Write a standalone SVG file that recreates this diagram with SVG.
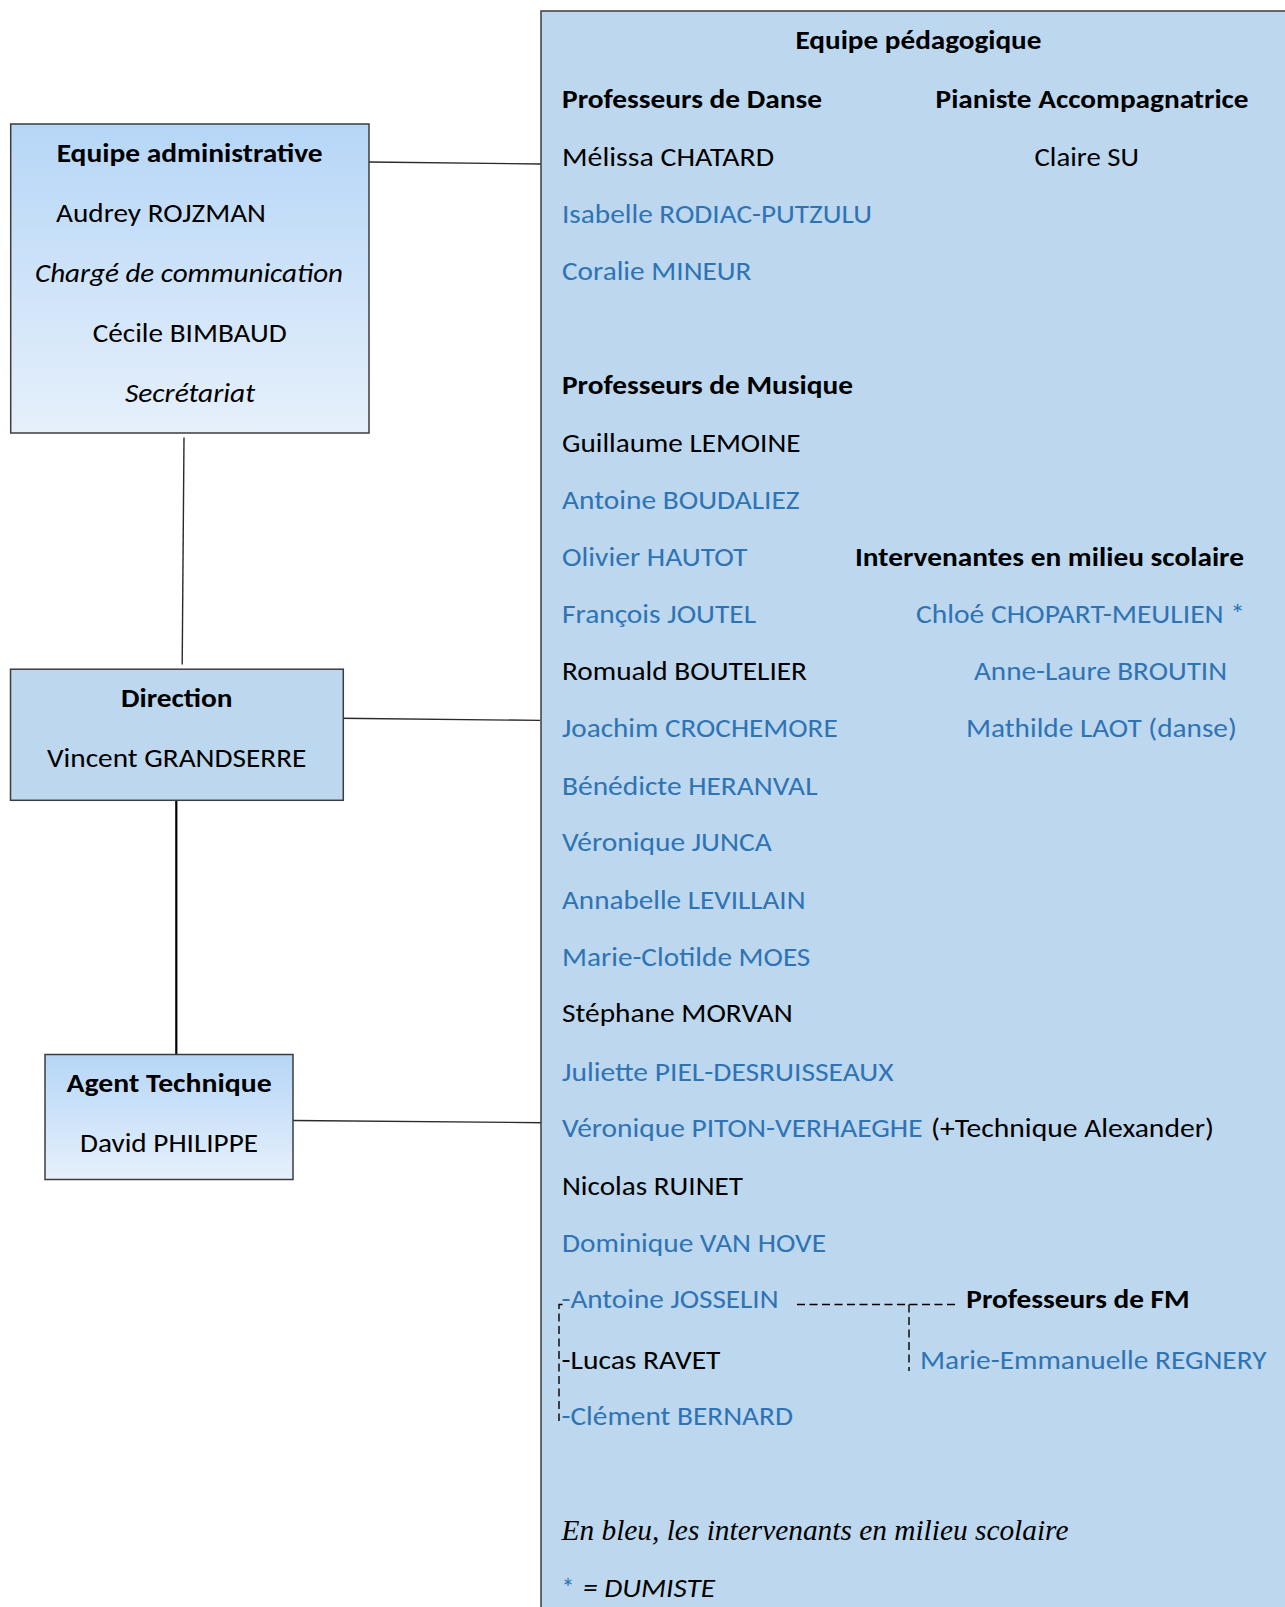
<svg xmlns="http://www.w3.org/2000/svg" width="1285" height="1607" viewBox="0 0 1285 1607">
<defs>
<linearGradient id="gradBox" x1="0" y1="0" x2="0" y2="1">
<stop offset="0" stop-color="#B6D6F7"/>
<stop offset="1" stop-color="#E6F0FB"/>
</linearGradient>
<style>
.t{font-family:Carlito,Lato,"Open Sans",sans-serif;font-size:26px;fill:#000}
.b{font-weight:bold}
.i{font-style:italic}
.bl{fill:#2E74B5}
.serif{font-family:"Liberation Serif","Times New Roman",serif;font-size:30px;font-style:italic;fill:#000}
.box{stroke:#3C3C3C;stroke-width:1.5}
.conn{stroke:#2A2A2A;stroke-width:1.4;fill:none}
.dash{stroke:#000;stroke-width:1.4;fill:none;stroke-dasharray:8 4.5}
</style>
</defs>
<rect width="1285" height="1607" fill="#FFFFFF"/>

<g id="connectors">
<line class="conn" x1="369" y1="162" x2="541" y2="164"/>
<line class="conn" x1="184" y1="437.5" x2="182.2" y2="664.5"/>
<line class="conn" x1="340" y1="718.3" x2="540" y2="720.4"/>
<line class="conn" x1="176.3" y1="800.5" x2="176.3" y2="1054.5" style="stroke:#000;stroke-width:2.2"/>
<line class="conn" x1="293" y1="1120.5" x2="544" y2="1122.7"/>
</g>

<g id="node-pedagogique">
<rect class="box" x="541" y="11" width="760" height="1610" fill="#BDD7EE"/>
<text class="t b" x="795.5" y="49" textLength="246" lengthAdjust="spacingAndGlyphs">Equipe pédagogique</text>
<text class="t b" x="562" y="108.3" textLength="260" lengthAdjust="spacingAndGlyphs">Professeurs de Danse</text>
<text class="t b" x="935.6" y="108.3" textLength="313" lengthAdjust="spacingAndGlyphs">Pianiste Accompagnatrice</text>
<text class="t" x="562" y="165.7" textLength="212" lengthAdjust="spacingAndGlyphs">Mélissa CHATARD</text>
<text class="t" x="1034.5" y="165.7" textLength="104.5" lengthAdjust="spacingAndGlyphs">Claire SU</text>
<text class="t bl" x="562" y="222.5" textLength="310" lengthAdjust="spacingAndGlyphs">Isabelle RODIAC-PUTZULU</text>
<text class="t bl" x="562" y="280" textLength="189.5" lengthAdjust="spacingAndGlyphs">Coralie MINEUR</text>
<text class="t b" x="562" y="394.3" textLength="291" lengthAdjust="spacingAndGlyphs">Professeurs de Musique</text>
<text class="t" x="562" y="452" textLength="238.5" lengthAdjust="spacingAndGlyphs">Guillaume LEMOINE</text>
<text class="t bl" x="562" y="508.5" textLength="237.5" lengthAdjust="spacingAndGlyphs">Antoine BOUDALIEZ</text>
<text class="t bl" x="562" y="565.5" textLength="185.5" lengthAdjust="spacingAndGlyphs">Olivier HAUTOT</text>
<text class="t b" x="855" y="565.5" textLength="389" lengthAdjust="spacingAndGlyphs">Intervenantes en milieu scolaire</text>
<text class="t bl" x="562" y="622.7" textLength="194" lengthAdjust="spacingAndGlyphs">François JOUTEL</text>
<text class="t bl" x="916" y="622.7" textLength="329" lengthAdjust="spacingAndGlyphs">Chloé CHOPART-MEULIEN *</text>
<text class="t" x="562" y="680" textLength="245" lengthAdjust="spacingAndGlyphs">Romuald BOUTELIER</text>
<text class="t bl" x="974" y="680" textLength="253" lengthAdjust="spacingAndGlyphs">Anne-Laure BROUTIN</text>
<text class="t bl" x="562" y="736.5" textLength="275.7" lengthAdjust="spacingAndGlyphs">Joachim CROCHEMORE</text>
<text class="t bl" x="966" y="736.5" textLength="270.8" lengthAdjust="spacingAndGlyphs">Mathilde LAOT (danse)</text>
<text class="t bl" x="562" y="795" textLength="255.5" lengthAdjust="spacingAndGlyphs">Bénédicte HERANVAL</text>
<text class="t bl" x="562" y="851.3" textLength="209.8" lengthAdjust="spacingAndGlyphs">Véronique JUNCA</text>
<text class="t bl" x="562" y="908.7" textLength="243.5" lengthAdjust="spacingAndGlyphs">Annabelle LEVILLAIN</text>
<text class="t bl" x="562" y="966" textLength="248.3" lengthAdjust="spacingAndGlyphs">Marie-Clotilde MOES</text>
<text class="t" x="562" y="1022.4" textLength="230.7" lengthAdjust="spacingAndGlyphs">Stéphane MORVAN</text>
<text class="t bl" x="562" y="1080.8" textLength="331.5" lengthAdjust="spacingAndGlyphs">Juliette PIEL-DESRUISSEAUX</text>
<text class="t bl" x="562" y="1137.2" textLength="360.5" lengthAdjust="spacingAndGlyphs">Véronique PITON-VERHAEGHE</text>
<text class="t" x="931" y="1137.2" textLength="283" lengthAdjust="spacingAndGlyphs">(+Technique Alexander)</text>
<text class="t" x="562" y="1194.6" textLength="181" lengthAdjust="spacingAndGlyphs">Nicolas RUINET</text>
<text class="t bl" x="562" y="1252" textLength="264" lengthAdjust="spacingAndGlyphs">Dominique VAN HOVE</text>
<text class="t bl" x="561.5" y="1308.3" textLength="217" lengthAdjust="spacingAndGlyphs">-Antoine JOSSELIN</text>
<text class="t b" x="966.3" y="1308.3" textLength="223.4" lengthAdjust="spacingAndGlyphs">Professeurs de FM</text>
<text class="t" x="561.5" y="1368.8" textLength="159" lengthAdjust="spacingAndGlyphs">-Lucas RAVET</text>
<text class="t bl" x="920" y="1368.8" textLength="346.5" lengthAdjust="spacingAndGlyphs">Marie-Emmanuelle REGNERY</text>
<text class="t bl" x="561.5" y="1425" textLength="231.5" lengthAdjust="spacingAndGlyphs">-Clément BERNARD</text>
<text class="serif" x="561.5" y="1540" textLength="507" lengthAdjust="spacingAndGlyphs">En bleu, les intervenants en milieu scolaire</text>
<text class="t bl" x="561.5" y="1597">*</text>
<text class="t i" x="583" y="1597" textLength="132" lengthAdjust="spacingAndGlyphs">= DUMISTE</text>
<path class="dash" d="M797 1304.5 H955 M909 1304.5 V1371"/>
<path class="dash" d="M562.5 1304.5 H559 V1421"/>
</g>

<g id="node-admin">
<rect class="box" x="10.7" y="124" width="358.3" height="309" fill="url(#gradBox)"/>
<text class="t b" x="56.7" y="161.7" textLength="266" lengthAdjust="spacingAndGlyphs">Equipe administrative</text>
<text class="t" x="56" y="221.7" textLength="210" lengthAdjust="spacingAndGlyphs">Audrey ROJZMAN</text>
<text class="t i" x="35" y="281.7" textLength="308" lengthAdjust="spacingAndGlyphs">Chargé de communication</text>
<text class="t" x="92.7" y="341.7" textLength="194" lengthAdjust="spacingAndGlyphs">Cécile BIMBAUD</text>
<text class="t i" x="125" y="401.7" textLength="130" lengthAdjust="spacingAndGlyphs">Secrétariat</text>
</g>

<g id="node-direction">
<rect class="box" x="10.5" y="669.2" width="332.8" height="131.1" fill="#BDD7EE"/>
<text class="t b" x="121" y="707" textLength="111.6" lengthAdjust="spacingAndGlyphs">Direction</text>
<text class="t" x="47" y="767.3" textLength="259.4" lengthAdjust="spacingAndGlyphs">Vincent GRANDSERRE</text>
</g>

<g id="node-agent">
<rect class="box" x="45" y="1054.5" width="248" height="125" fill="url(#gradBox)"/>
<text class="t b" x="66.6" y="1092.2" textLength="205" lengthAdjust="spacingAndGlyphs">Agent Technique</text>
<text class="t" x="80" y="1151.8" textLength="178" lengthAdjust="spacingAndGlyphs">David PHILIPPE</text>
</g>
</svg>
